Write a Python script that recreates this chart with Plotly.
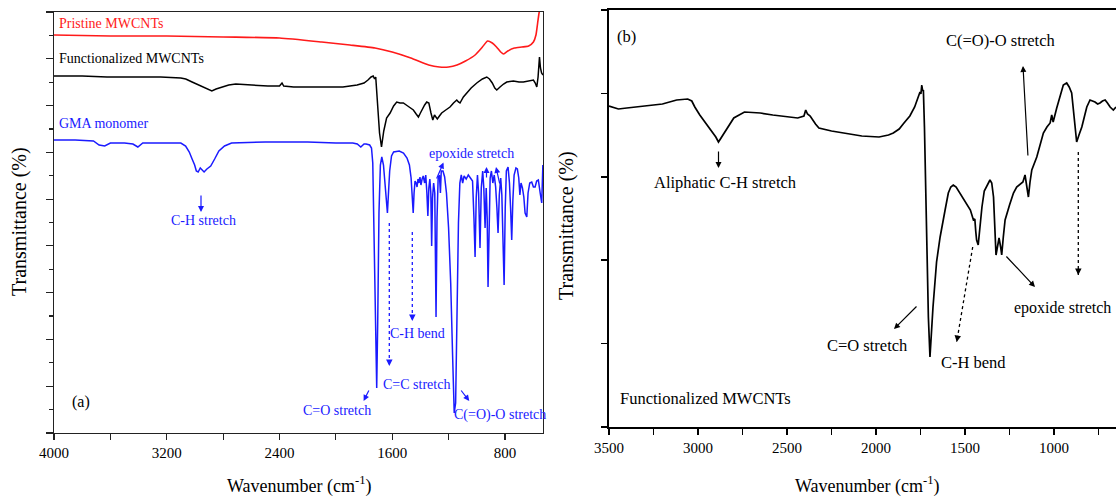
import plotly.graph_objects as go

W, H = 1116, 496
FONT = "Liberation Serif"
BLUE = "#1a1aff"
RED = "#ff1a1a"

# ---------------- Panel (a) data ----------------
pristine_wn = [4000, 3600, 3200, 2800, 2400, 2100, 1900, 1722, 1600, 1468, 1341, 1265, 1200, 1140,
               1080, 1012, 960, 923, 890, 860, 830, 809, 780, 733, 680, 632, 598, 580, 568, 558, 550]
pristine_t = [398, 397, 397, 396, 395, 391, 388, 385, 381, 375, 368, 366, 366, 368,
              372, 378, 386, 392, 390, 386, 381, 379, 382, 385, 386, 387, 391, 398, 410, 420, 425]

func_wn = [4000, 3800, 3624, 3400, 3243, 3100, 3065, 3020, 2989, 2950, 2914, 2880, 2850, 2812,
           2760, 2710, 2600, 2482, 2400, 2382, 2370, 2300, 2102, 1950, 1849, 1800, 1772, 1750,
           1735, 1725, 1717, 1705, 1690, 1676, 1660, 1640, 1615, 1590, 1568, 1545, 1521, 1490,
           1450, 1430, 1414, 1400, 1390, 1370, 1355, 1340, 1325, 1312, 1300, 1290, 1280, 1265,
           1249, 1220, 1190, 1165, 1142, 1130, 1119, 1095, 1071, 1040, 1000, 960, 929, 910, 890,
           872, 858, 845, 835, 810, 787, 740, 700, 669, 640, 610, 598, 585, 574, 565, 555, 548,
           540, 530]
func_t = [357, 357, 356, 356, 356, 355, 354, 351, 349, 346, 344, 342, 344, 346,
          348, 349, 348, 347, 347, 350, 347, 346, 346, 346, 348, 350, 353, 356,
          357, 354, 356, 330, 300, 286, 302, 315, 320, 327, 331, 330, 330, 327,
          323, 319, 316, 320, 323, 328, 331, 330, 320, 313, 318, 316, 314, 317,
          320, 323, 326, 330, 333, 331, 330, 336, 340, 345, 350, 354, 356, 354, 350,
          345, 343, 345, 346, 349, 351, 352, 351, 351, 352, 353, 353, 350, 346, 356, 376, 365,
          360, 358]

gma_wn = [4000, 3850, 3720, 3680, 3640, 3600, 3500, 3440, 3405, 3370, 3200, 3100, 3066, 3040,
          3020, 3002, 2990, 2977, 2962, 2950, 2935, 2915, 2888, 2860, 2830, 2790, 2740, 2500,
          2200, 2000, 1880, 1848, 1823, 1800, 1785, 1760, 1747, 1738, 1728, 1718, 1710, 1703,
          1694, 1684, 1674, 1662, 1650, 1641, 1634, 1628, 1618, 1605, 1590, 1550, 1520, 1495,
          1478, 1466, 1458, 1451, 1445, 1438, 1430, 1424, 1417, 1410, 1403, 1396, 1388, 1380,
          1370, 1362, 1354, 1347, 1340, 1333, 1326, 1320, 1314, 1306, 1298, 1289, 1282, 1274,
          1265, 1258, 1252, 1240, 1228, 1215, 1200, 1185, 1172, 1160, 1150, 1140, 1130, 1120,
          1110, 1100, 1090, 1075, 1060, 1045, 1030, 1020, 1012, 1004, 995, 987, 977, 968, 958,
          950, 941, 933, 926, 920, 913, 905, 896, 886, 876, 866, 857, 849, 840, 830, 822, 815,
          806, 798, 790, 778, 768, 760, 752, 744, 735, 722, 712, 702, 694, 686, 676, 666, 657,
          645, 636, 624, 610, 598, 586, 575, 563, 550, 539, 531]
gma_t = [293, 293, 292, 288, 287, 290, 290, 289, 286, 290, 290, 290, 287, 281,
         274, 268, 262, 261, 265, 263, 261, 264, 267, 274, 282, 287, 290, 291,
         291, 290, 290, 289, 286, 289, 289, 288, 285, 270, 200, 100, 45, 110,
         220, 268, 276, 268, 250, 232, 220, 236, 262, 277, 281, 282, 280, 275,
         268, 255, 235, 220, 240, 252, 250, 246, 254, 250, 256, 248, 254, 257,
         250, 258, 240, 217, 245, 254, 240, 187, 235, 250, 240, 116, 215, 255,
         258, 240, 262, 262, 256, 240, 205, 150, 80, 20, 30, 120, 210, 250,
         258, 250, 257, 254, 258, 255, 252, 215, 176, 235, 258, 240, 185, 245, 262,
         245, 205, 245, 215, 146, 210, 255, 262, 250, 258, 246, 225, 200, 238, 255, 238, 205,
         148, 225, 262, 266, 250, 225, 193, 232, 258, 265, 264, 255, 238, 250, 245, 236, 220,
         216, 240, 250, 251, 246, 246, 252, 253, 240, 230, 268]

# ---------------- Panel (b) data ----------------
fb_wn = [3500, 3447, 3400, 3277, 3200, 3120, 3058, 3035, 3018, 2990, 2958, 2918, 2900, 2885,
         2870, 2849, 2820, 2799, 2739, 2650, 2580, 2500, 2440, 2405, 2395, 2385, 2370, 2340,
         2321, 2250, 2181, 2080, 1983, 1930, 1903, 1870, 1843, 1810, 1783, 1763, 1753, 1748,
         1743, 1738, 1734, 1728, 1718, 1706, 1697, 1680, 1660, 1640, 1612, 1594, 1580, 1566,
         1550, 1528, 1510, 1491, 1470, 1453, 1445, 1440, 1435, 1426, 1418, 1405, 1392, 1380,
         1360, 1350, 1340, 1326, 1316, 1309, 1300, 1294, 1285, 1275, 1250, 1228, 1210, 1190,
         1175, 1163, 1152, 1144, 1135, 1125, 1097, 1060, 1040, 1022, 1013, 1005, 985, 965, 948,
         929, 915, 901, 888, 873, 860, 844, 830, 816, 798, 785, 770, 755, 742, 728, 713, 700,
         685, 667, 652]
fb_t = [321, 318, 319, 321, 323, 327, 328, 326, 320, 312, 304, 295, 290, 285,
        289, 295, 303, 309, 315, 314, 312, 310, 309, 311, 317, 313, 311, 303,
        299, 296, 294, 291, 290, 292, 294, 298, 304, 311, 320, 330, 335, 333,
        342, 336, 337, 300, 200, 110, 70, 120, 165, 190, 217, 234, 240, 242,
        240, 234, 229, 224, 217, 207, 208, 196, 187, 182, 200, 220, 236, 240,
        247, 244, 230, 172, 180, 189, 180, 172, 190, 207, 222, 234, 240, 243,
        245, 252, 240, 230, 245, 257, 270, 294, 300, 304, 312, 305, 319, 332, 342,
        344, 340, 334, 310, 285, 292, 300, 310, 320, 327, 326, 325, 323, 324, 326, 327, 324,
        320, 317, 320]


def px(x):
    return x / W


def py(y):
    return 1 - y / H


fig = go.Figure()
fig.add_trace(go.Scatter(x=pristine_wn, y=pristine_t, mode="lines",
                         line=dict(color=RED, width=1.6, shape="spline", smoothing=0.5),
                         xaxis="x", yaxis="y", showlegend=False, hoverinfo="skip"))
fig.add_trace(go.Scatter(x=func_wn, y=func_t, mode="lines",
                         line=dict(color="black", width=1.5),
                         xaxis="x", yaxis="y", showlegend=False, hoverinfo="skip"))
fig.add_trace(go.Scatter(x=gma_wn, y=gma_t, mode="lines",
                         line=dict(color=BLUE, width=1.5),
                         xaxis="x", yaxis="y", showlegend=False, hoverinfo="skip"))
fig.add_trace(go.Scatter(x=fb_wn, y=fb_t, mode="lines",
                         line=dict(color="black", width=1.7),
                         xaxis="x2", yaxis="y2", showlegend=False, hoverinfo="skip"))

tickfont = dict(family=FONT, size=15, color="black")

fig.update_layout(
    width=W, height=H,
    margin=dict(l=0, r=0, t=0, b=0, pad=0, autoexpand=False),
    paper_bgcolor="white", plot_bgcolor="white",
    showlegend=False, hovermode=False,
    xaxis=dict(domain=[px(54), px(543)], range=[4000, 530], anchor="y",
               showline=True, linecolor="#222", linewidth=1.2, mirror=True,
               ticks="outside", ticklen=6, tickcolor="#222", tickwidth=1.2,
               tick0=0, dtick=800, tickfont=tickfont, automargin=False,
               minor=dict(ticks="outside", dtick=400, ticklen=6, tickcolor="#222", tickwidth=1.2),
               showgrid=False, zeroline=False),
    yaxis=dict(domain=[py(433), py(12)], range=[0, 421], anchor="x",
               showline=True, linecolor="#222", linewidth=1.2, mirror=True,
               ticks="outside", ticklen=7, tickcolor="#222", tickwidth=1.2,
               tick0=0, dtick=46.78, showticklabels=False, automargin=False,
               minor=dict(ticks="outside", dtick=23.39, ticklen=4, tickcolor="#222", tickwidth=1.2),
               showgrid=False, zeroline=False),
    xaxis2=dict(domain=[px(609), 1], range=[3500, 652], anchor="y2",
                showline=True, linecolor="black", linewidth=2, mirror=True,
                ticks="outside", ticklen=6, tickcolor="black", tickwidth=1.5,
                tick0=0, dtick=500, tickfont=tickfont, automargin=False,
                minor=dict(ticks="outside", dtick=250, ticklen=6, tickcolor="black", tickwidth=1.5),
                showgrid=False, zeroline=False),
    yaxis2=dict(domain=[py(427), py(10)], range=[0, 417], anchor="x2",
                showline=True, linecolor="black", linewidth=1.6, mirror=False,
                ticks="outside", ticklen=6, tickcolor="black", tickwidth=1.5,
                tick0=0, dtick=83.4, showticklabels=False, automargin=False,
                showgrid=False, zeroline=False),
)


def text(cx, cy, s, color="black", size=14, anchor="center", angle=0):
    fig.add_annotation(x=px(cx), y=py(cy), xref="paper", yref="paper", text=s,
                       showarrow=False, xanchor=anchor, yanchor="middle", textangle=angle,
                       font=dict(family=FONT, size=size, color=color))


def arrow(hx, hy, tx, ty, color="black", width=1.2, size=1.0):
    fig.add_annotation(x=px(hx), y=py(hy), xref="paper", yref="paper",
                       ax=tx - hx, ay=ty - hy, axref="pixel", ayref="pixel",
                       text="", showarrow=True, arrowhead=2, arrowsize=size,
                       arrowwidth=width, arrowcolor=color, standoff=0, startstandoff=0)


def dotted_arrow(x0, y0, x1, y1, color="black", width=1.3):
    fig.add_shape(type="line", xref="paper", yref="paper",
                  x0=px(x0), y0=py(y0), x1=px(x1), y1=py(y1),
                  line=dict(color=color, width=width, dash="dot"))
    dx, dy = x1 - x0, y1 - y0
    n = (dx * dx + dy * dy) ** 0.5
    arrow(x1, y1, x1 - 6 * dx / n, y1 - 6 * dy / n, color=color, width=width)


# ---- panel (a) labels ----
text(57, 23, "Pristine MWCNTs", RED, 14, "left")
text(57, 59, "Functionalized MWCNTs", "black", 14, "left")
text(57, 123, "GMA monomer", BLUE, 14, "left")
text(203, 220, "C-H stretch", BLUE, 14)
arrow(201, 212, 201, 194, BLUE)
text(471, 153, "epoxide stretch", BLUE, 14)
arrow(443.5, 162.5, 436, 180, BLUE)
arrow(486.5, 167, 486.5, 179, BLUE)
arrow(496, 167, 500, 185, BLUE)
text(337, 410, "C=O stretch", BLUE, 14)
arrow(363.6, 401, 369.6, 389, BLUE)
text(416, 384, "C=C stretch", BLUE, 14)
dotted_arrow(389.3, 223, 389.3, 366, BLUE)
text(417, 333, "C-H bend", BLUE, 14)
dotted_arrow(412.3, 232, 412.3, 321, BLUE)
text(500, 415, "C(=O)-O stretch", BLUE, 14)
arrow(469.3, 401, 460, 389, BLUE)
text(81, 402, "(a)", "black", 16)

# ---- panel (b) labels ----
text(627, 36, "(b)", "black", 16.5)
text(725, 183, "Aliphatic C-H stretch", "black", 16.5)
arrow(718.5, 168, 718.5, 150)
text(1000, 40, "C(=O)-O stretch", "black", 16.5)
arrow(1023, 66, 1028, 157)
dotted_arrow(1078.3, 152, 1078.3, 275)
text(1113, 308, "epoxide stretch", "black", 16, "right")
arrow(1035, 287, 1005, 255)
text(973, 362, "C-H bend", "black", 16.5)
dotted_arrow(972.7, 247, 956.7, 342)
text(867, 345, "C=O stretch", "black", 16.5)
arrow(894, 329, 918, 305)
text(618, 398, "Functionalized MWCNTs", "black", 16.5, "left")

# ---- axis titles ----
text(20, 222, "Transmittance (%)", "black", 20, angle=-90)
text(299, 485, "Wavenumber (cm<sup>-1</sup>)", "black", 18)
text(567, 226, "Transmittance (%)", "black", 20, angle=-90)
text(867, 485, "Wavenumber (cm<sup>-1</sup>)", "black", 18)

fig.write_html("out.html",
               config={"displayModeBar": False, "staticPlot": True},
               post_script="document.body.style.margin='0';document.body.style.overflow='hidden';")
